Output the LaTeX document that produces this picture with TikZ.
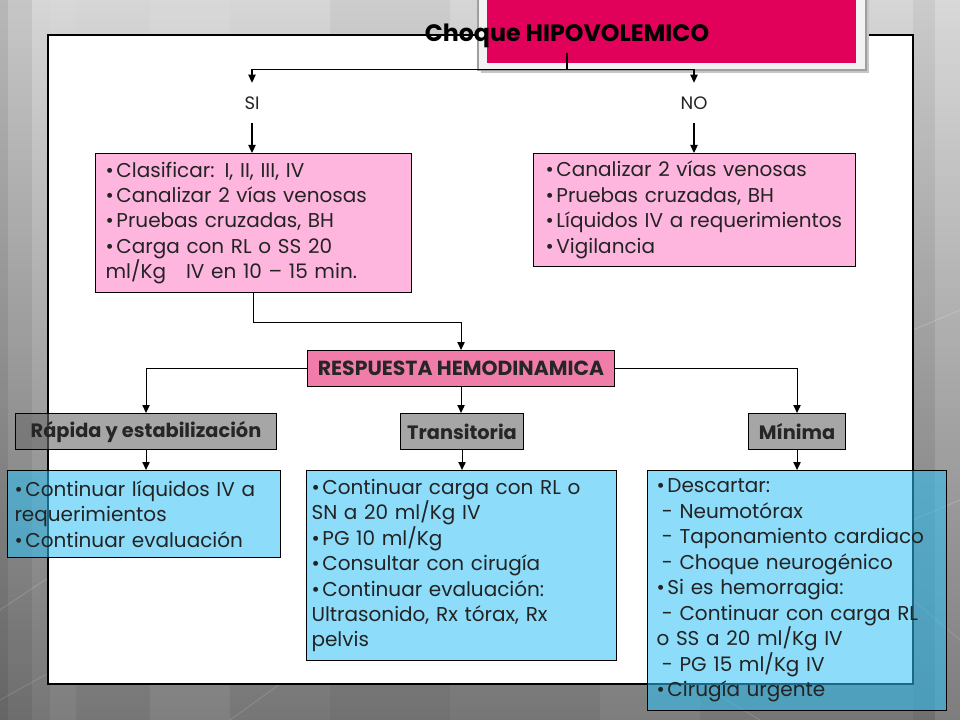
\documentclass[tikz,border=0pt]{standalone}
\usepackage{fontspec}
\setmainfont{Poppins}
\usetikzlibrary{arrows.meta}
\definecolor{bgtop}{RGB}{214,214,214}
\definecolor{bgbot}{RGB}{118,118,118}
\definecolor{pinkL}{RGB}{255,182,222}
\definecolor{pinkM}{RGB}{240,124,170}
\definecolor{crim}{RGB}{225,0,90}
\definecolor{blueC}{RGB}{46,193,246}
\definecolor{grayC}{RGB}{107,107,107}
\definecolor{txt}{RGB}{35,35,35}
\newcommand\bul{\textbullet\hspace{2pt}}
\newcommand\dsh{\hspace*{4pt}-\ }
\tikzset{
 arr/.style={-{Triangle[width=5.5pt,length=6pt]}, line width=0.8pt},
 body/.style={font=\fontsize{15}{19.1}\selectfont, text=txt},
 pinkbox/.style={draw, fill=pinkL, line width=0.8pt, align=left, body, anchor=north west},
 bluebox/.style={draw, fill=blueC, fill opacity=0.55, text opacity=1, line width=0.8pt, align=left, body, anchor=north west},
 graybox/.style={draw, fill=grayC, fill opacity=0.6, text opacity=1, line width=0.8pt, font=\bfseries\fontsize{14.5}{16}\selectfont, text=black!85, anchor=north west, inner sep=0pt},
 lbl/.style={font=\fontsize{13.5}{15}\selectfont, text=txt, minimum height=30pt, inner sep=0pt},
}
\begin{document}
\begin{tikzpicture}[x=0.75pt,y=-0.75pt]
\useasboundingbox (0,0) rectangle (960,720);
% background
\shade[top color=bgtop, bottom color=bgbot] (0,0) rectangle (960,720);
\fill[black, opacity=0.14] (0,0) rectangle (8,720);
\fill[black, opacity=0.07] (8,0) rectangle (32,720);
\fill[white, opacity=0.06] (50,0) rectangle (76,720);
\fill[white, opacity=0.07] (150,0) rectangle (230,720);
\fill[black, opacity=0.04] (330,0) rectangle (450,720);
\fill[white, opacity=0.06] (600,0) rectangle (700,720);
\fill[black, opacity=0.05] (913,0) rectangle (935,720);
\fill[white, opacity=0.06] (935,0) rectangle (960,720);
\draw[white, opacity=0.18, line width=0.6pt] (0,610) -- (60,570) -- (60,480);
\draw[white, opacity=0.15, line width=0.6pt] (0,700) -- (90,650);
\draw[white, opacity=0.15, line width=0.6pt] (230,720) -- (280,684);
\draw[white, opacity=0.15, line width=0.6pt] (700,684) -- (760,720);
\draw[white, opacity=0.2, line width=0.6pt] (913,330) -- (960,310);
\draw[white, opacity=0.2, line width=0.6pt] (913,520) -- (960,500);
\draw[white, opacity=0.15, line width=0.6pt] (913,600) -- (960,640);
% frame
\draw[fill=white, line width=0.8pt] (48,35) rectangle (913,684);
% title plate
\fill[gray!45] (481,-5) rectangle (869,73);
\draw[fill=black!5, draw=gray!75, line width=1.2pt] (478,-5) rectangle (866,70);
\fill[crim] (487,-5) rectangle (856,63);
\node[font=\bfseries\fontsize{17.8}{20}\selectfont, text=black, inner sep=0pt, minimum height=25.5pt] (title) at (567,36) {Choque HIPOVOLEMICO};
% SI / NO
\node[lbl] (si) at (252,103) {SI};
\node[lbl] (no) at (694,103) {NO};
% first boxes
\node[pinkbox, text width=222pt, inner xsep=7.5pt, minimum height=104.25pt] (b1) at (95,153)
 {\bul Clasificar: I, II, III, IV\\ \bul Canalizar 2 vías venosas\\ \bul Pruebas cruzadas, BH\\ \bul Carga con RL o SS 20\\ ml/Kg\ \ \ IV en 10 – 15 min.};
\node[pinkbox, text width=223.5pt, inner xsep=9pt, minimum height=84.75pt] (b2) at (533,153)
 {\bul Canalizar 2 vías venosas\\ \bul Pruebas cruzadas, BH\\ \bul Líquidos IV a requerimientos\\ \bul Vigilancia};
% respuesta
\node[draw, fill=pinkM, line width=0.8pt, anchor=north west, minimum width=230.25pt, minimum height=27pt, inner sep=0pt, font=\bfseries\fontsize{15.3}{17}\selectfont, text=black!85] (resp) at (307,350) {RESPUESTA HEMODINAMICA};
% gray labels
\node[graybox, minimum width=195.75pt, minimum height=27pt] (rap) at (15,413) {Rápida y estabilización};
\node[graybox, minimum width=92.25pt, minimum height=27pt] (tra) at (400,413) {Transitoria};
\node[graybox, minimum width=72.75pt, minimum height=27pt] (mini) at (748,413) {Mínima};
% blue boxes
\node[bluebox, text width=194.25pt, inner xsep=5.25pt, minimum height=65.25pt] (c1) at (7,470)
 {\bul Continuar líquidos IV a\\ requerimientos\\ \bul Continuar evaluación};
\node[bluebox, text width=225pt, inner xsep=3.75pt, minimum height=142.5pt] (c2) at (306,470)
 {\bul Continuar carga con RL o\\ SN a 20 ml/Kg IV\\ \bul PG 10 ml/Kg\\ \bul Consultar con cirugía\\ \bul Continuar evaluación:\\ Ultrasonido, Rx tórax, Rx\\ pelvis};
\node[bluebox, text width=210.75pt, inner xsep=6.75pt, minimum height=180pt] (c3) at (647,470)
 {\bul Descartar:\\ \dsh Neumotórax\\ \dsh Taponamiento cardiaco\\ \dsh Choque neurogénico\\ \bul Si es hemorragia:\\ \dsh Continuar con carga RL\\ o SS a 20 ml/Kg IV\\ \dsh PG 15 ml/Kg IV\\ \bul Cirugía urgente};
% connectors
\draw[arr] (title.south) -- ++(0,16) -| (si.north);
\draw[arr] (title.south) -- ++(0,16) -| (no.north);
\draw[arr] (si.south) -- (si.south |- b1.north);
\draw[arr] (no.south) -- (no.south |- b2.north);
\draw[arr] (b1.south) -- ++(0,29) -| (resp.north);
\draw[arr] (resp.west) -| (rap.north);
\draw[arr] (resp.east) -| (mini.north);
\draw[arr] (resp.south) -- (resp.south |- tra.north);
\draw[arr] (rap.south) -- (rap.south |- c1.north);
\draw[arr] (tra.south) -- (tra.south |- c2.north);
\draw[arr] (mini.south) -- (mini.south |- c3.north);
\end{tikzpicture}
\end{document}
